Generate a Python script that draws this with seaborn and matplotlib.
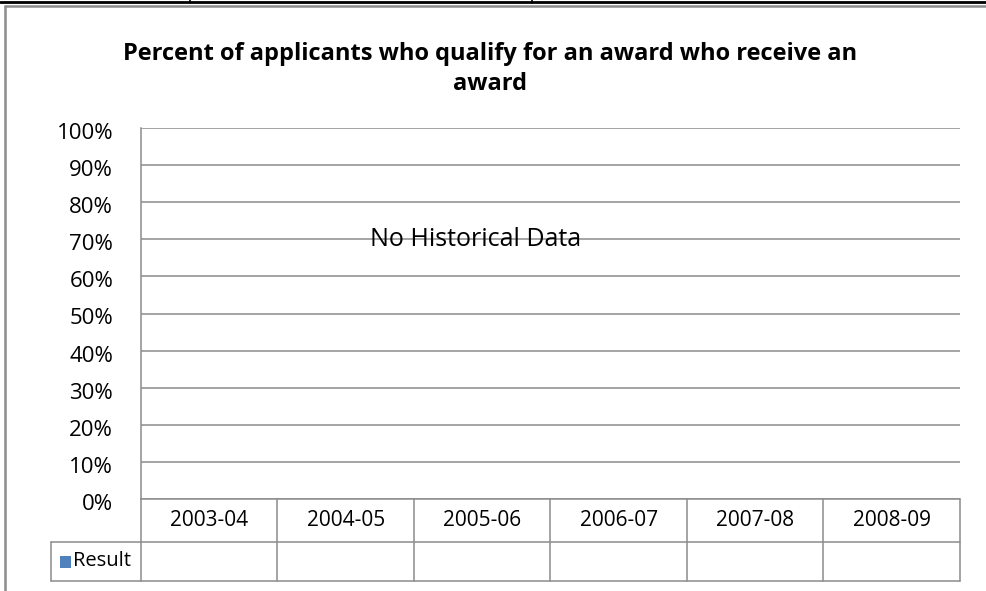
import numpy as np
import pandas as pd
import matplotlib
matplotlib.use("Agg")
import matplotlib.pyplot as plt
import matplotlib.transforms as mtransforms
from matplotlib.lines import Line2D
from matplotlib.patches import Rectangle
import seaborn as sns

# data: the report has no values yet for any year
years = ['2003-04', '2004-05', '2005-06', '2006-07', '2007-08', '2008-09']
result = [np.nan, np.nan, np.nan, np.nan, np.nan, np.nan]
pct_ticks = [0, 10, 20, 30, 40, 50, 60, 70, 80, 90, 100]
series_name = 'Result'
title = 'Percent of applicants who qualify for an award who receive an\naward'
note = 'No Historical Data'

sns.set_theme(style='white')
plt.rcParams['font.family'] = ['Open Sans', 'DejaVu Sans']

W, H = 987, 591
fig = plt.figure(figsize=(W / 100, H / 100), dpi=100)
fig.patch.set_facecolor('white')

grey = '#8c8c8c'

# plot area in pixels: x 141..960, y 128..499
ax = fig.add_axes([141 / W, 1 - 499 / H, 819 / W, 371 / H])
df = pd.DataFrame({'year': years, 'pct': result})
sns.barplot(data=df, x='year', y='pct', color='#4f81bd', errorbar=None, ax=ax)

ax.set_ylim(0, 100)
ax.set_xlim(-0.5, len(years) - 0.5)
ax.set_yticks(pct_ticks)
ax.set_yticklabels([f'{v}%' for v in pct_ticks], fontsize=16, color='black')
ax.set_xticks([])
ax.set_xlabel('')
ax.set_ylabel('')
ax.tick_params(axis='y', length=0, pad=20)
ax.yaxis.grid(True, color=grey, linewidth=1.1)
ax.set_axisbelow(True)
for s in ['top', 'right', 'bottom']:
    ax.spines[s].set_visible(False)
ax.spines['left'].set_color(grey)
ax.spines['left'].set_linewidth(1.1)

# Excel sets the axis labels a little below their gridlines
shift = mtransforms.ScaledTranslation(0, -3 / 100, fig.dpi_scale_trans)
for lab in ax.get_yticklabels():
    lab.set_transform(lab.get_transform() + shift)

ax.text(0.408, 70, note, transform=mtransforms.blended_transform_factory(ax.transAxes, ax.transData),
        ha='center', va='center', fontsize=18, color='black')

# data table under the plot
tr = mtransforms.blended_transform_factory(ax.transData, ax.transAxes)
r1 = -43 / 371
r2 = -82 / 371
n = len(years)
lk = dict(color=grey, linewidth=1.1, transform=tr, clip_on=False)
ax.add_line(Line2D([-0.5, n - 0.5], [0, 0], **lk))
ax.add_line(Line2D([-0.5, n - 0.5], [r1, r1], **lk))
ax.add_line(Line2D([-0.5, n - 0.5], [r2, r2], **lk))
for i in range(n + 1):
    ax.add_line(Line2D([i - 0.5, i - 0.5], [0, r2], **lk))
for i, yr in enumerate(years):
    ax.text(i, r1 / 2, yr, transform=tr, ha='center', va='center', fontsize=15, color='black')

# legend key cell on the left of the second row
tra = ax.transAxes
x0 = -90 / 819
ax.add_line(Line2D([x0, 0], [r1, r1], color=grey, linewidth=1.1, transform=tra, clip_on=False))
ax.add_line(Line2D([x0, 0], [r2, r2], color=grey, linewidth=1.1, transform=tra, clip_on=False))
ax.add_line(Line2D([x0, x0], [r1, r2], color=grey, linewidth=1.1, transform=tra, clip_on=False))
ax.add_patch(Rectangle((x0 + 9 / 819, (r1 + r2) / 2 - 6 / 371), 11 / 819, 12 / 371,
                       facecolor='#4f81bd', edgecolor='none', transform=tra, clip_on=False))
ax.text(x0 + 22 / 819, (r1 + r2) / 2, series_name, transform=tra, ha='left', va='center',
        fontsize=14.5, color='black')

# title
fig.text(490 / W, 1 - 69 / H, title, ha='center', va='center', fontsize=17,
         fontweight='bold', color='black', linespacing=1.35)

# chart frame and the sheet line above it
fig.add_artist(Line2D([5.5 / W, 5.5 / W], [1 - 5.5 / H, 0], color=grey, linewidth=1.8))
fig.add_artist(Line2D([5.5 / W, 1], [1 - 5.5 / H, 1 - 5.5 / H], color=grey, linewidth=1.8))
fig.add_artist(Line2D([0, 1], [1 - 2 / H, 1 - 2 / H], color='black', linewidth=2))
for xp in [190, 532]:
    fig.add_artist(Line2D([xp / W, xp / W], [1, 1 - 3 / H], color='black', linewidth=1.2))

fig.savefig('out.png', dpi=100)
